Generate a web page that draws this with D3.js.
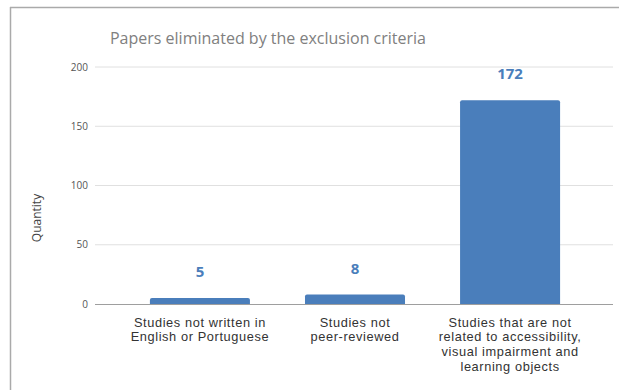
<!DOCTYPE html>
<html>
<head>
<meta charset="utf-8">
<script src="https://cdn.jsdelivr.net/npm/d3@7"></script>
<style>
  body { margin: 0; background: #fff; }
  svg { display: block; font-family: "Open Sans", sans-serif; }
</style>
</head>
<body>
<svg id="chart" width="619" height="390"></svg>
<script>
var categories = [
  ["Studies not written in", "English or Portuguese"],
  ["Studies not", "peer-reviewed"],
  ["Studies that are not", "related to accessibility,", "visual impairment and", "learning objects"]
];
var values = [5, 8, 172];
var yTicks = [0, 50, 100, 150, 200];

var svg = d3.select("#chart");

// frame (only top and left edges show)
svg.append("line").attr("x1", 10).attr("x2", 619).attr("y1", 7.5).attr("y2", 7.5)
  .attr("stroke", "#aaa").attr("stroke-width", 1.5);
svg.append("line").attr("x1", 10.5).attr("x2", 10.5).attr("y1", 7).attr("y2", 390)
  .attr("stroke", "#aaa").attr("stroke-width", 1.5);

var y = d3.scaleLinear().domain([0, 200]).range([304, 67]);
var x = d3.scaleBand().domain(d3.range(categories.length)).range([122, 588]).paddingInner(0.355).paddingOuter(0.18);

var gridLeft = 95, gridRight = 613;

// gridlines
svg.append("g").selectAll("line")
  .data(yTicks.filter(function(d) { return d > 0; }))
  .enter().append("line")
  .attr("x1", gridLeft).attr("x2", gridRight)
  .attr("y1", function(d) { return y(d); }).attr("y2", function(d) { return y(d); })
  .attr("stroke", "#e0e0e0");

// y tick labels
svg.append("g").selectAll("text")
  .data(yTicks)
  .enter().append("text")
  .attr("x", 88).attr("y", function(d) { return y(d); })
  .attr("dy", "0.35em")
  .attr("text-anchor", "end")
  .attr("font-size", 10)
  .attr("fill", "#555")
  .text(function(d) { return d; });

// bars with small rounded top
var r = 2;
svg.append("g").selectAll("path")
  .data(values)
  .enter().append("path")
  .attr("d", function(d, i) {
    var x0 = x(i), x1 = x(i) + x.bandwidth(), top = y(d), bot = y(0);
    return "M" + x0 + "," + bot + "V" + (top + r) + "Q" + x0 + "," + top + " " + (x0 + r) + "," + top +
      "H" + (x1 - r) + "Q" + x1 + "," + top + " " + x1 + "," + (top + r) + "V" + bot + "Z";
  })
  .attr("fill", "#4a7ebb");

// baseline
svg.append("line").attr("x1", gridLeft).attr("x2", gridRight)
  .attr("y1", y(0) + 0.5).attr("y2", y(0) + 0.5)
  .attr("stroke", "#9e9e9e").attr("stroke-width", 1.2);

// value labels
svg.append("g").selectAll("text")
  .data(values)
  .enter().append("text")
  .attr("x", function(d, i) { return x(i) + x.bandwidth() / 2; })
  .attr("y", function(d) { return y(d) - 21; })
  .attr("text-anchor", "middle")
  .attr("font-size", 15)
  .attr("font-weight", "bold")
  .attr("fill", "#4a7ebb")
  .text(function(d) { return d; });

// category labels, one text per line
var lines = [];
categories.forEach(function(c, i) {
  c.forEach(function(s, j) { lines.push({s: s, i: i, j: j}); });
});
svg.append("g").selectAll("text")
  .data(lines)
  .enter().append("text")
  .attr("x", function(d) { return x(d.i) + x.bandwidth() / 2; })
  .attr("y", function(d) { return 326.5 + d.j * 14.7; })
  .attr("text-anchor", "middle")
  .attr("font-family", "'Liberation Sans', sans-serif")
  .attr("font-size", 12.8)
  .attr("letter-spacing", 0.6)
  .attr("fill", "#333")
  .text(function(d) { return d.s; });

// axis title
svg.append("text")
  .attr("transform", "translate(41,218) rotate(-90)")
  .attr("text-anchor", "middle")
  .attr("font-size", 12)
  .attr("fill", "#444")
  .text("Quantity");

// chart title
svg.append("text")
  .attr("x", 268).attr("y", 44)
  .attr("text-anchor", "middle")
  .attr("font-size", 16)
  .attr("fill", "#808080")
  .text("Papers eliminated by the exclusion criteria");
</script>
</body>
</html>
